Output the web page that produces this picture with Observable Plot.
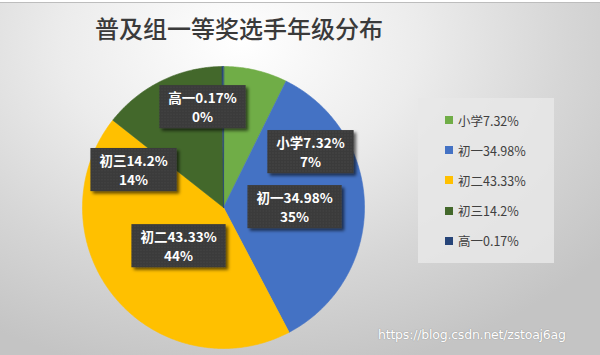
<!DOCTYPE html>
<html><head><meta charset="utf-8">
<script src="https://cdn.jsdelivr.net/npm/d3@7"></script>
<script src="https://cdn.jsdelivr.net/npm/@observablehq/plot@0.6"></script>
<style>
html,body{margin:0;padding:0;background:#fff;}
#wrap{position:relative;width:600px;height:355px;overflow:hidden;
  background:radial-gradient(ellipse 78% 95% at 40% 12%, #ffffff 0%, #ececec 38%, #d6d6d6 70%, #c4c4c4 100%);
  font-family:"Noto Sans CJK SC","Noto Sans",sans-serif;}
#topstrip{position:absolute;left:0;top:0;width:600px;height:2px;background:#fff;border-bottom:1px solid #bdbdbd;}
#title{position:absolute;left:0;width:478px;top:13px;line-height:30px;text-align:center;font-size:24px;font-weight:500;color:#3a3a3a;}
#chart{position:absolute;left:0;top:0;}
#legend{position:absolute;left:418px;top:98px;width:136px;height:165px;background:rgba(232,232,232,0.85);}
.li{position:absolute;left:27px;height:16px;display:flex;align-items:center;font-size:12.5px;color:#404040;white-space:nowrap;}
.li span.sw{display:inline-block;width:8px;height:8px;margin-right:5px;}
#wm{position:absolute;left:378px;top:327px;font-family:"DejaVu Sans",sans-serif;font-size:12.5px;color:#fff;text-shadow:0 0 1px #999,0 0 1px #999;letter-spacing:-0.2px;}
</style></head>
<body><div id="wrap"><div id="topstrip"></div><div id="title"></div><div id="chart"></div><div id="legend"></div><div id="wm"></div></div>
<script>
const titleText = "普及组一等奖选手年级分布";
const categories = ["小学", "初一", "初二", "初三", "高一"];
const values = [7.32, 34.98, 43.33, 14.2, 0.17];
const roundedLabels = ["7%", "35%", "44%", "14%", "0%"];
const colors = ["#70AD47", "#4472C4", "#FFC000", "#43682B", "#264478"];
// label anchor positions, in pie-radius units relative to the pie centre
const labelX = [0.617, 0.504, -0.319, -0.638, -0.149];
const labelY = [0.397, 0.007, -0.270, 0.270, 0.716];
const watermark = "https://blog.csdn.net/zstoaj6ag";

const W = 600, H = 355, CX = 223, CY = 207, R = 141;

const total = d3.sum(values);
let acc = 0;
const points = [];
categories.forEach((c, i) => {
  const a0 = acc / total * 2 * Math.PI;
  acc += values[i];
  const a1 = acc / total * 2 * Math.PI;
  const n = Math.max(2, Math.ceil((a1 - a0) / (Math.PI / 360)));
  points.push({key: c, x: 0, y: 0});
  for (let k = 0; k <= n; k++) {
    const a = a0 + (a1 - a0) * k / n;
    points.push({key: c, x: Math.sin(a), y: Math.cos(a)});
  }
});

const labels = categories.map((c, i) => ({
  key: c, x: labelX[i], y: labelY[i],
  text: `${c}${values[i]}%\n${roundedLabels[i]}`
}));

const chart = Plot.plot({
  width: W, height: H,
  margin: 0,
  style: {background: "transparent", overflow: "visible"},
  x: {domain: [-CX / R, (W - CX) / R], axis: null},
  y: {domain: [-(H - CY) / R, CY / R], axis: null},
  color: {domain: categories, range: colors},
  marks: [
    Plot.line(points, {x: "x", y: "y", z: "key", fill: "key", stroke: "key", strokeWidth: 0.6, curve: "linear-closed"}),
    Plot.text(labels, {x: "x", y: "y", text: "text", fill: "white", fontWeight: "bold", fontSize: 13.5, lineHeight: 1.42,
      fontFamily: "'Noto Sans CJK SC', sans-serif", className: "lbl"})
  ]
});

// defs for box texture and shadow
const ns = "http://www.w3.org/2000/svg";
const defs = document.createElementNS(ns, "defs");
defs.innerHTML = `
<pattern id="dots" width="3" height="3" patternUnits="userSpaceOnUse">
  <rect width="3" height="3" fill="#3b3b3b"/>
  <rect x="1" y="1" width="1" height="1" fill="#4a4a4a"/>
</pattern>
<filter id="sh" x="-20%" y="-20%" width="150%" height="160%">
  <feDropShadow dx="2.5" dy="2.5" stdDeviation="1.5" flood-color="#000" flood-opacity="0.6"/>
</filter>`;
chart.insertBefore(defs, chart.firstChild);
document.getElementById("chart").appendChild(chart);

// boxes behind labels
chart.querySelectorAll("g.lbl text").forEach(t => {
  const b = t.getBBox();
  const r = document.createElementNS(ns, "rect");
  r.setAttribute("x", b.x - 9);
  r.setAttribute("y", b.y - 2);
  r.setAttribute("width", b.width + 18);
  r.setAttribute("height", b.height + 4);
  r.setAttribute("fill", "url(#dots)");
  r.setAttribute("filter", "url(#sh)");
  const tr = t.getAttribute("transform");
  if (tr) r.setAttribute("transform", tr);
  t.parentNode.insertBefore(r, t);
});

document.getElementById("title").textContent = titleText;
document.getElementById("wm").textContent = watermark;

const leg = document.getElementById("legend");
categories.forEach((c, i) => {
  const d = document.createElement("div");
  d.className = "li";
  d.style.top = (14 + i * 30.2) + "px";
  d.innerHTML = `<span class="sw" style="background:${colors[i]}"></span><span></span>`;
  d.lastChild.textContent = `${c}${values[i]}%`;
  leg.appendChild(d);
});
</script>
</body></html>
